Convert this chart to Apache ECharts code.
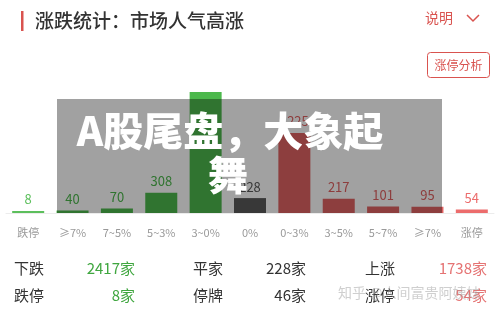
<!DOCTYPE html>
<html>
<head>
<meta charset="utf-8">
<script src="https://cdn.jsdelivr.net/npm/echarts@6/dist/echarts.min.js"></script>
<style>
  html, body { margin: 0; padding: 0; background: #fff; }
  #chart { width: 500px; height: 312px; }
</style>
</head>
<body>
<div id="chart"></div>
<script>
// 涨跌分布
const categories = ['跌停', '≥7%', '7~5%', '5~3%', '3~0%', '0%', '0~3%', '3~5%', '5~7%', '≥7%', '涨停']
const counts = [8, 40, 70, 308, 1850, 228, 1225, 217, 101, 95, 54]
const showLabel = [true, true, true, true, false, true, true, true, true, true, true]

// 底部统计
const tableRow1 = [['下跌', '2417家'], ['平家', '228家'], ['上涨', '1738家']]
const tableRow2 = [['跌停', '8家'], ['停牌', '46家'], ['涨停', '54家']]

const barColors = ['#5cbf5c', '#4cb84c', '#4cb84c', '#4cb84c', '#4cb84c', '#5a5a5a',
  '#e06262', '#e06262', '#e06262', '#e06262', '#ec6c6c']
const labelColors = ['#5cbf5c', '#4cb84c', '#4cb84c', '#4cb84c', '#4cb84c', '#5a5a5a',
  '#e06262', '#e06262', '#e06262', '#e06262', '#ec6c6c']
const valueColors = ['#3fa63f', '#333333', '#e57373']
const FONT = '"Noto Sans CJK SC", "Noto Sans", sans-serif'

const barData = counts.map((v, i) => ({
  value: v,
  itemStyle: { color: barColors[i] },
  label: { show: showLabel[i], color: labelColors[i] }
}))

const graphic = [
  // 标题
  { type: 'rect', left: 21, top: 11, shape: { width: 2.5, height: 20 }, style: { fill: '#d9534f' } },
  { type: 'text', x: 35, y: 21, style: { text: '涨跌统计：市场人气高涨', font: '500 19px ' + FONT, fill: '#333', verticalAlign: 'middle' } },
  { type: 'text', x: 425, y: 18, style: { text: '说明', font: '14px ' + FONT, fill: '#d9534f', verticalAlign: 'middle' } },
  { type: 'polyline', shape: { points: [[467, 15], [473, 21], [479, 15]] }, style: { stroke: '#d9534f', lineWidth: 1.5, fill: null } },
  { type: 'rect', shape: { x: 427.5, y: 52.5, width: 62, height: 25, r: 3 }, style: { fill: '#fff', stroke: '#d9534f', lineWidth: 1 } },
  { type: 'text', x: 458.5, y: 65, style: { text: '涨停分析', font: '12px ' + FONT, fill: '#d9534f', align: 'center', verticalAlign: 'middle' } }
]

// 底部表格
const colX = [[14, 135], [193, 306], [365, 487]]
;[tableRow1, tableRow2].forEach((row, r) => {
  const y = r === 0 ? 268 : 295
  row.forEach((cell, c) => {
    graphic.push({ type: 'text', x: colX[c][0], y: y, style: { text: cell[0], font: '15px ' + FONT, fill: '#333', verticalAlign: 'middle' } })
    graphic.push({ type: 'text', x: colX[c][1], y: y, style: { text: cell[1], font: '15px ' + FONT, fill: valueColors[c], align: 'right', verticalAlign: 'middle' } })
  })
})

// 水印
graphic.push({ type: 'text', x: 338, y: 293, z: 200, style: { text: '知乎 @人间富贵阿姨妹', font: '14px ' + FONT, fill: 'rgba(160,160,160,0.5)', verticalAlign: 'middle' } })

// 遮罩 + 大字
graphic.push({ type: 'rect', z: 100, shape: { x: 57, y: 99, width: 385, height: 114 }, style: { fill: 'rgba(0,0,0,0.37)' } })
graphic.push({ type: 'text', z: 101, x: 230, y: 131, style: { text: 'A股尾盘，大象起', font: '900 40px ' + FONT, fill: '#fff', align: 'center', verticalAlign: 'middle' } })
graphic.push({ type: 'text', z: 101, x: 228, y: 175, style: { text: '舞', font: '900 40px ' + FONT, fill: '#fff', align: 'center', verticalAlign: 'middle' } })

const chart = echarts.init(document.getElementById('chart'))
chart.setOption({
  animation: false,
  textStyle: { fontFamily: FONT },
  grid: { left: 6, right: 6, top: 92, bottom: 99 },
  xAxis: {
    type: 'category',
    data: categories,
    axisTick: { show: false },
    axisLine: { show: true, lineStyle: { color: '#ececec', width: 1 } },
    axisLabel: { color: '#999', fontSize: 11, margin: 14, interval: 0 }
  },
  yAxis: {
    type: 'value',
    min: 0,
    max: 1850,
    show: false
  },
  series: [
    {
      type: 'bar',
      data: barData,
      barWidth: 32,
      barMinHeight: 2,
      label: { show: true, position: 'top', fontSize: 13, distance: 5 }
    }
  ],
  graphic: graphic
})
</script>
</body>
</html>
